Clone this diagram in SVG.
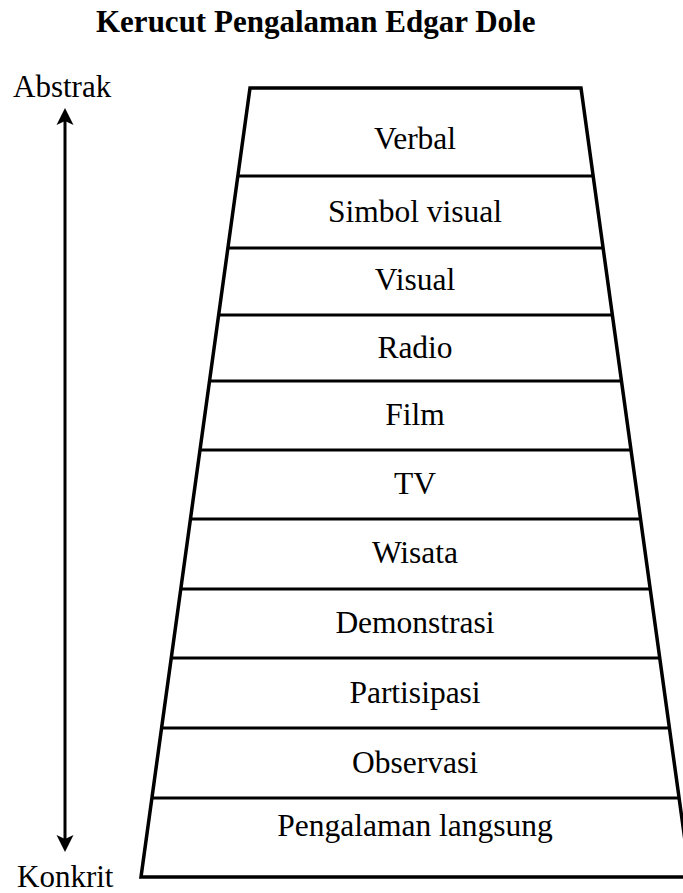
<svg xmlns="http://www.w3.org/2000/svg" width="683" height="893" viewBox="0 0 683 893">
<style>
  text { font-family: 'Liberation Serif', Tinos, 'Times New Roman', Times, 'DejaVu Serif', serif; fill: #000; }
  .t { font-size: 31.5px; text-anchor: middle; }
  .side { font-size: 31px; }
  .title { font-size: 31px; font-weight: bold; }
  .edge { fill: none; stroke: #000; stroke-width: 3.5; stroke-linejoin: miter; }
  .div { stroke: #000; stroke-width: 3; }
  .arrow { stroke: #000; stroke-width: 3; fill: none; }
</style>
<rect width="683" height="893" fill="#fff"/>
<text class="title" x="96" y="32">Kerucut Pengalaman Edgar Dole</text>
<g id="cone">
  <polygon class="edge" points="250,88 581,88 690,877 141,877"/>
  <line class="div" x1="237.8" y1="176" x2="593.2" y2="176"/>
  <line class="div" x1="227.9" y1="248" x2="603.1" y2="248"/>
  <line class="div" x1="218.6" y1="315" x2="612.4" y2="315"/>
  <line class="div" x1="209.5" y1="381" x2="621.5" y2="381"/>
  <line class="div" x1="200" y1="450" x2="631" y2="450"/>
  <line class="div" x1="190.4" y1="519" x2="640.6" y2="519"/>
  <line class="div" x1="180.8" y1="589" x2="650.2" y2="589"/>
  <line class="div" x1="171.2" y1="658" x2="659.8" y2="658"/>
  <line class="div" x1="161.6" y1="728" x2="669.4" y2="728"/>
  <line class="div" x1="151.9" y1="798" x2="679.1" y2="798"/>
</g>
<g id="verbal"><text class="t" x="415" y="149">Verbal</text></g>
<g id="simbol-visual"><text class="t" x="415" y="222">Simbol visual</text></g>
<g id="visual"><text class="t" x="415" y="290">Visual</text></g>
<g id="radio"><text class="t" x="415" y="358">Radio</text></g>
<g id="film"><text class="t" x="415" y="425">Film</text></g>
<g id="tv"><text class="t" x="415" y="494">TV</text></g>
<g id="wisata"><text class="t" x="415" y="563">Wisata</text></g>
<g id="demonstrasi"><text class="t" x="415" y="633">Demonstrasi</text></g>
<g id="partisipasi"><text class="t" x="415" y="703">Partisipasi</text></g>
<g id="observasi"><text class="t" x="415" y="773">Observasi</text></g>
<g id="pengalaman-langsung"><text class="t" x="415" y="836">Pengalaman langsung</text></g>
<g id="abstrak"><text class="side" x="13" y="97">Abstrak</text></g>
<g id="konkrit"><text class="side" x="17" y="887">Konkrit</text></g>
<g id="connectors">
  <line class="arrow" x1="65" y1="120" x2="65" y2="840"/>
  <path d="M65,108 L73.5,125 L65,121 L56.5,125 Z" fill="#000"/>
  <path d="M65,852 L73.5,835 L65,839 L56.5,835 Z" fill="#000"/>
</g>
</svg>
